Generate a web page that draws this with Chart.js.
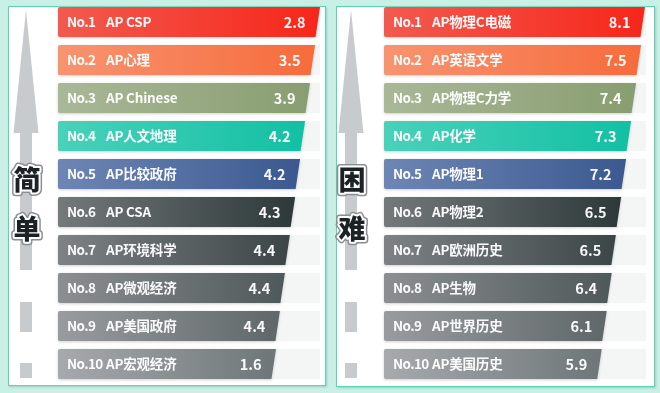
<!DOCTYPE html>
<html>
<head>
<meta charset="utf-8">
<script src="https://cdn.jsdelivr.net/npm/chart.js@4/dist/chart.umd.min.js"></script>
<style>
  html, body { margin: 0; padding: 0; }
  body { width: 660px; height: 393px; background: #c9f0e5; position: relative; overflow: hidden; }
  .panel { position: absolute; background: #ffffff; border: 1.5px solid #5fd2b4; box-shadow: 1px 1px 2px rgba(60,150,130,0.35); box-sizing: border-box; }
  .wrap { position: absolute; top: 0; width: 330px; height: 393px; }
</style>
</head>
<body>
<div class="panel" style="left:8px; top:6px; width:318px; height:380px;"></div>
<div class="panel" style="left:336px; top:6px; width:319px; height:381px;"></div>
<div class="wrap" style="left:0px;"><canvas id="cLeft"></canvas></div>
<div class="wrap" style="left:330px;"><canvas id="cRight"></canvas></div>
<script>
// ---- data ----
const rankLabels = ["No.1","No.2","No.3","No.4","No.5","No.6","No.7","No.8","No.9","No.10"];
const easyCourses = ["AP CSP","AP心理","AP Chinese","AP人文地理","AP比较政府","AP CSA","AP环境科学","AP微观经济","AP美国政府","AP宏观经济"];
const easyScores = [2.8, 3.5, 3.9, 4.2, 4.2, 4.3, 4.4, 4.4, 4.4, 1.6];
const hardCourses = ["AP物理C电磁","AP英语文学","AP物理C力学","AP化学","AP物理1","AP物理2","AP欧洲历史","AP生物","AP世界历史","AP美国历史"];
const hardScores = [8.1, 7.5, 7.4, 7.3, 7.2, 6.5, 6.5, 6.4, 6.1, 5.9];
// drawn bar lengths (percent of track)
const easyBarLength = [100, 98.1, 96.2, 94.3, 92.4, 90.5, 88.5, 86.6, 84.7, 83.2];
const hardBarLength = [99.6, 98.1, 96.2, 94.3, 92.4, 90.5, 88.5, 86.9, 85.0, 83.1];
const trackLength = [100, 100, 100, 100, 100, 100, 100, 100, 100, 100];

const barColors = [
  ["#f25a4f", "#f7261a"],
  ["#f79470", "#f76b3c"],
  ["#a9b897", "#889d70"],
  ["#4ad1ba", "#12c0a3"],
  ["#6e86b4", "#3b5990"],
  ["#74797a", "#2d3939"],
  ["#7e8284", "#3c4647"],
  ["#8c8f91", "#4f585a"],
  ["#999c9e", "#5f6769"],
  ["#a7aaac", "#6e7678"]
];

const SLANT = 4.5;
const TXT_FONT = '"Noto Sans CJK SC", "Noto Sans", sans-serif';

const barPlugin = {
  id: 'slantBars',
  beforeDatasetDraw(chart, args) {
    if (args.index !== 0) return;
    const ctx = chart.ctx;
    const meta = chart.getDatasetMeta(0);
    meta.data.forEach((el, i) => {
      const p = el.getProps(['x', 'y', 'base', 'height'], true);
      const top = p.y - p.height / 2, bot = p.y + p.height / 2;
      const g = ctx.createLinearGradient(p.base, 0, p.x, 0);
      g.addColorStop(0, barColors[i][0]);
      g.addColorStop(1, barColors[i][1]);
      ctx.save();
      ctx.shadowColor = 'rgba(0,0,0,0.18)';
      ctx.shadowBlur = 3;
      ctx.shadowOffsetY = 1;
      ctx.beginPath();
      const r = 2;
      ctx.moveTo(p.base + r, top);
      ctx.lineTo(p.x, top);
      ctx.lineTo(p.x - SLANT, bot);
      ctx.lineTo(p.base + r, bot);
      ctx.quadraticCurveTo(p.base, bot, p.base, bot - r);
      ctx.lineTo(p.base, top + r);
      ctx.quadraticCurveTo(p.base, top, p.base + r, top);
      ctx.closePath();
      ctx.fillStyle = g;
      ctx.fill();
      ctx.restore();
    });
    return false;
  },
  afterDatasetsDraw(chart) {
    const ctx = chart.ctx;
    const meta = chart.getDatasetMeta(0);
    const o = chart.options.plugins.slantBars;
    meta.data.forEach((el, i) => {
      const p = el.getProps(['x', 'y', 'base'], true);
      ctx.save();
      ctx.fillStyle = 'rgba(255,255,255,0.96)';
      ctx.textBaseline = 'middle';
      ctx.textAlign = 'left';
      ctx.font = '700 13.5px ' + TXT_FONT;
      ctx.letterSpacing = '-0.6px';
      ctx.fillText(rankLabels[i], p.base + o.rankOffset, p.y);
      ctx.letterSpacing = '-0.2px';
      ctx.font = '700 13.5px ' + TXT_FONT;
      ctx.fillText(o.names[i], p.base + o.nameOffset, p.y);
      ctx.letterSpacing = '0px';
      ctx.font = '700 14.5px ' + TXT_FONT;
      ctx.textAlign = 'right';
      ctx.fillText(o.scores[i].toFixed(1), p.x - 14.5, p.y);
      ctx.restore();
    });
  },
  beforeDraw(chart) {
    // decorative arrow + title characters
    const ctx = chart.ctx;
    const o = chart.options.plugins.slantBars;
    const cx = o.arrowX;
    ctx.save();
    ctx.fillStyle = '#c8cbce';
    ctx.beginPath();
    ctx.moveTo(cx, 10);
    ctx.lineTo(cx + 12.5, 133);
    ctx.lineTo(cx - 12.5, 133);
    ctx.closePath();
    ctx.fill();
    ctx.fillRect(cx - 6, 132, 12, 138);
    ctx.fillRect(cx - 6, 302, 12, 30);
    ctx.fillRect(cx - 6, 363, 12, 15);
    ctx.font = '900 27px "Noto Sans CJK SC", sans-serif';
    ctx.textAlign = 'center';
    ctx.textBaseline = 'middle';
    ctx.lineJoin = 'round';
    o.title.forEach((ch, k) => {
      const y = k === 0 ? 180 : 229;
      ctx.strokeStyle = '#8a8e90';
      ctx.lineWidth = 7;
      ctx.strokeText(ch, cx + 1, y);
      ctx.strokeStyle = '#ffffff';
      ctx.lineWidth = 4;
      ctx.strokeText(ch, cx + 1, y);
      ctx.fillStyle = '#1c2224';
      ctx.fillText(ch, cx + 1, y);
    });
    ctx.restore();
  }
};

function makeChart(id, names, scores, lengths, padLeft, padRight, arrowX, title) {
  return new Chart(document.getElementById(id), {
    type: 'bar',
    data: {
      labels: rankLabels,
      datasets: [
        { data: lengths, backgroundColor: 'rgba(0,0,0,0)', barThickness: 30, grouped: false },
        { data: trackLength, backgroundColor: '#f4f5f5', barThickness: 30, grouped: false }
      ]
    },
    options: {
      indexAxis: 'y',
      responsive: true,
      maintainAspectRatio: false,
      animation: false,
      layout: { padding: { left: padLeft, right: padRight, top: 3, bottom: 10 } },
      scales: {
        x: { display: false, min: 0, max: 100 },
        y: { display: false }
      },
      plugins: {
        legend: { display: false },
        tooltip: { enabled: false },
        slantBars: { names: names, scores: scores, rankOffset: 9, nameOffset: 48, arrowX: arrowX, title: title }
      }
    },
    plugins: [barPlugin]
  });
}

makeChart('cLeft', easyCourses, easyScores, easyBarLength, 58, 10, 26, ['简', '单']);
makeChart('cRight', hardCourses, hardScores, hardBarLength, 54, 14, 21, ['困', '难']);
</script>
</body>
</html>
